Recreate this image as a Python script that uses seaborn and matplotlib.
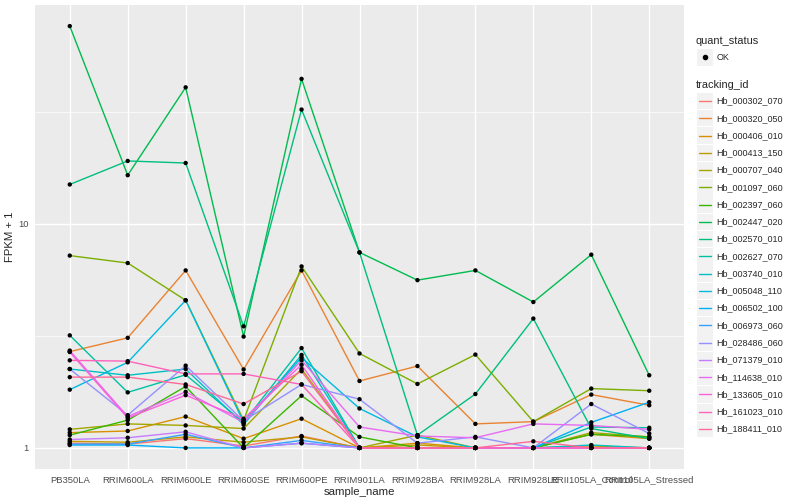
import math

import matplotlib.pyplot as plt
import numpy as np
import pandas as pd
import seaborn as sns
from matplotlib.lines import Line2D
from matplotlib.patches import Rectangle

plt.switch_backend("Agg")

# --- DATA (FPKM + 1) ---
samples = ["PB350LA", "RRIM600LA", "RRIM600LE", "RRIM600SE", "RRIM600PE", "RRIM901LA",
           "RRIM928BA", "RRIM928LA", "RRIM928LE", "RRII105LA_Control", "RRII105LA_Stressed"]

Hb_000302_070 = [1.05, 1.04, 1.10, 1.02, 1.13, 1.00, 1.00, 1.00, 1.00, 1.00, 1.00]
Hb_000320_050 = [2.69, 3.10, 6.20, 2.24, 6.20, 1.99, 2.32, 1.28, 1.31, 1.73, 1.55]
Hb_000406_010 = [1.17, 1.19, 1.38, 1.10, 1.35, 1.00, 1.05, 1.00, 1.00, 1.15, 1.10]
Hb_000413_150 = [1.07, 1.06, 1.12, 1.06, 1.12, 1.00, 1.03, 1.00, 1.00, 1.02, 1.00]
Hb_000707_040 = [1.21, 1.28, 1.26, 1.22, 2.25, 1.00, 1.14, 1.00, 1.00, 1.17, 1.12]
Hb_001097_060 = [7.22, 6.69, 4.56, 1.33, 6.46, 2.64, 1.93, 2.61, 1.31, 1.84, 1.80]
Hb_002397_060 = [1.14, 1.33, 1.88, 1.00, 1.71, 1.12, 1.00, 1.00, 1.00, 1.15, 1.12]
Hb_002447_020 = [76.4, 16.5, 40.7, 3.14, 44.4, 7.46, 5.61, 6.20, 4.48, 7.29, 2.11]
Hb_002570_010 = [15.0, 19.1, 18.7, 3.49, 32.4, 7.46, 1.14, 1.74, 3.78, 1.22, 1.10]
Hb_002627_070 = [3.18, 1.77, 2.12, 1.30, 2.79, 1.00, 1.00, 1.00, 1.00, 1.24, 1.23]
Hb_003740_010 = [2.25, 2.11, 2.25, 1.27, 2.60, 1.00, 1.00, 1.00, 1.00, 1.03, 1.00]
Hb_005048_110 = [1.82, 2.41, 4.56, 1.30, 2.53, 1.50, 1.12, 1.00, 1.00, 1.00, 1.00]
Hb_006502_100 = [1.03, 1.03, 1.00, 1.00, 1.05, 1.00, 1.00, 1.00, 1.00, 1.30, 1.60]
Hb_006973_060 = [1.04, 1.04, 1.15, 1.00, 1.08, 1.00, 1.00, 1.00, 1.00, 1.00, 1.00]
Hb_028486_060 = [2.25, 1.40, 2.33, 1.32, 1.92, 1.65, 1.05, 1.12, 1.00, 1.57, 1.16]
Hb_071379_010 = [1.09, 1.11, 1.18, 1.00, 1.05, 1.00, 1.00, 1.00, 1.00, 1.00, 1.00]
Hb_114638_010 = [2.72, 1.38, 1.78, 1.30, 2.46, 1.24, 1.13, 1.11, 1.28, 1.26, 1.21]
Hb_133605_010 = [2.68, 1.36, 1.72, 1.35, 2.35, 1.00, 1.00, 1.00, 1.00, 1.00, 1.00]
Hb_161023_010 = [2.46, 2.44, 2.14, 2.14, 1.92, 1.00, 1.00, 1.00, 1.00, 1.00, 1.00]
Hb_188411_010 = [2.07, 2.07, 1.92, 1.57, 2.20, 1.00, 1.00, 1.00, 1.07, 1.00, 1.00]

series = {
    "Hb_000302_070": Hb_000302_070, "Hb_000320_050": Hb_000320_050,
    "Hb_000406_010": Hb_000406_010, "Hb_000413_150": Hb_000413_150,
    "Hb_000707_040": Hb_000707_040, "Hb_001097_060": Hb_001097_060,
    "Hb_002397_060": Hb_002397_060, "Hb_002447_020": Hb_002447_020,
    "Hb_002570_010": Hb_002570_010, "Hb_002627_070": Hb_002627_070,
    "Hb_003740_010": Hb_003740_010, "Hb_005048_110": Hb_005048_110,
    "Hb_006502_100": Hb_006502_100, "Hb_006973_060": Hb_006973_060,
    "Hb_028486_060": Hb_028486_060, "Hb_071379_010": Hb_071379_010,
    "Hb_114638_010": Hb_114638_010, "Hb_133605_010": Hb_133605_010,
    "Hb_161023_010": Hb_161023_010, "Hb_188411_010": Hb_188411_010,
}
tracking_ids = list(series.keys())


def hue_pal(n, c=100.0, l=65.0):
    """ggplot2-style hue palette (polar LUV -> sRGB)."""
    hues = np.linspace(15, 375, n + 1)[:-1]
    xn, yn, zn = 95.047, 100.0, 108.883
    un = 4 * xn / (xn + 15 * yn + 3 * zn)
    vn = 9 * yn / (xn + 15 * yn + 3 * zn)
    out = []
    for h in hues:
        u = c * math.cos(math.radians(h))
        v = c * math.sin(math.radians(h))
        y = yn * ((l + 16) / 116) ** 3
        up = u / (13 * l) + un
        vp = v / (13 * l) + vn
        x = 9.0 * y * up / (4 * vp)
        z = -x / 3 - 5 * y + 3 * y / vp
        x, y, z = x / 100, y / 100, z / 100
        r = 3.240479 * x - 1.537150 * y - 0.498535 * z
        g = -0.969256 * x + 1.875992 * y + 0.041556 * z
        b = 0.055648 * x - 0.204043 * y + 1.057311 * z

        def gam(t):
            t = 1.055 * t ** (1 / 2.4) - 0.055 if t > 0.0031308 else 12.92 * t
            return min(max(t, 0.0), 1.0)

        out.append((gam(r), gam(g), gam(b)))
    return out


colors = hue_pal(len(tracking_ids))
palette = dict(zip(tracking_ids, colors))

rows = []
for tid in tracking_ids:
    for s, v in zip(samples, series[tid]):
        rows.append({"tracking_id": tid, "sample_name": s, "fpkm1": v, "quant_status": "OK"})
df = pd.DataFrame(rows)
df["xpos"] = df["sample_name"].map({s: i for i, s in enumerate(samples)})

# --- PLOT ---
sns.set_theme(style="darkgrid")
plt.rcParams["font.family"] = ["Liberation Sans", "DejaVu Sans"]

fig = plt.figure(figsize=(8, 5), dpi=100)
ax = fig.add_axes([35 / 800, 31 / 500, 649 / 800, 464 / 500])
ax.set_facecolor("#EBEBEB")

sns.lineplot(data=df, x="xpos", y="fpkm1", hue="tracking_id", hue_order=tracking_ids,
             palette=palette, linewidth=1.0, legend=False, ax=ax, sort=False,
             estimator=None, units="tracking_id")
sns.scatterplot(data=df, x="xpos", y="fpkm1", color="black", s=10, marker="o",
                edgecolor="none", legend=False, ax=ax, zorder=5)

ax.set_yscale("log")
lo, hi = np.log10(df["fpkm1"].min()), np.log10(df["fpkm1"].max())
pad = (hi - lo) * 0.05
ax.set_ylim(10 ** (lo - pad), 10 ** (hi + pad))
ax.set_xlim(-0.6, len(samples) - 1 + 0.6)

ax.set_yticks([1, 10])
ax.set_yticklabels(["1", "10"])
ax.set_yticks([10 ** 0.5, 10 ** 1.5], minor=True)
ax.set_xticks(range(len(samples)))
ax.set_xticklabels(samples)

ax.grid(which="major", color="white", linewidth=1.0)
ax.grid(which="minor", axis="y", color="white", linewidth=0.5)
ax.tick_params(which="major", length=2.75, width=0.8, color="#333333", labelsize=6.8,
               labelcolor="#4D4D4D", pad=2)
ax.tick_params(which="minor", length=0)
ax.tick_params(axis="x", which="minor", bottom=False)
for sp in ax.spines.values():
    sp.set_visible(False)

ax.set_xlabel("sample_name", fontsize=8.2, labelpad=2)
ax.set_ylabel("FPKM + 1", fontsize=8.2, labelpad=2)

# --- LEGEND (ggplot style, drawn in pixel coordinates) ---
W, H = 800, 500


def fx(px):
    return px / W


def fy(py):
    return 1 - py / H


fig.text(fx(696), fy(40.5), "quant_status", fontsize=7.9, va="center", ha="left")
fig.patches.append(Rectangle((fx(697), fy(65.5)), 15.5 / W, 16.5 / H,
                             transform=fig.transFigure, facecolor="#F2F2F2", edgecolor="none"))
fig.lines.append(Line2D([fx(704.7)], [fy(57.3)], transform=fig.transFigure, marker="o",
                        markersize=3, color="black", linestyle="none"))
fig.text(fx(716.5), fy(57.3), "OK", fontsize=6.5, va="center", ha="left")

fig.text(fx(696), fy(85), "tracking_id", fontsize=7.9, va="center", ha="left")
step = (429 - 101) / 19
for i, tid in enumerate(tracking_ids):
    cy = 101 + i * step
    fig.patches.append(Rectangle((fx(697), fy(cy + 8.2)), 15.5 / W, 16.4 / H,
                                 transform=fig.transFigure, facecolor="#F2F2F2",
                                 edgecolor="none"))
    fig.lines.append(Line2D([fx(698.5), fx(711)], [fy(cy), fy(cy)], transform=fig.transFigure,
                            color=palette[tid], linewidth=1.0))
    fig.text(fx(716.5), fy(cy), tid, fontsize=6.5, va="center", ha="left")

fig.savefig("out.png", dpi=100, facecolor="white")
